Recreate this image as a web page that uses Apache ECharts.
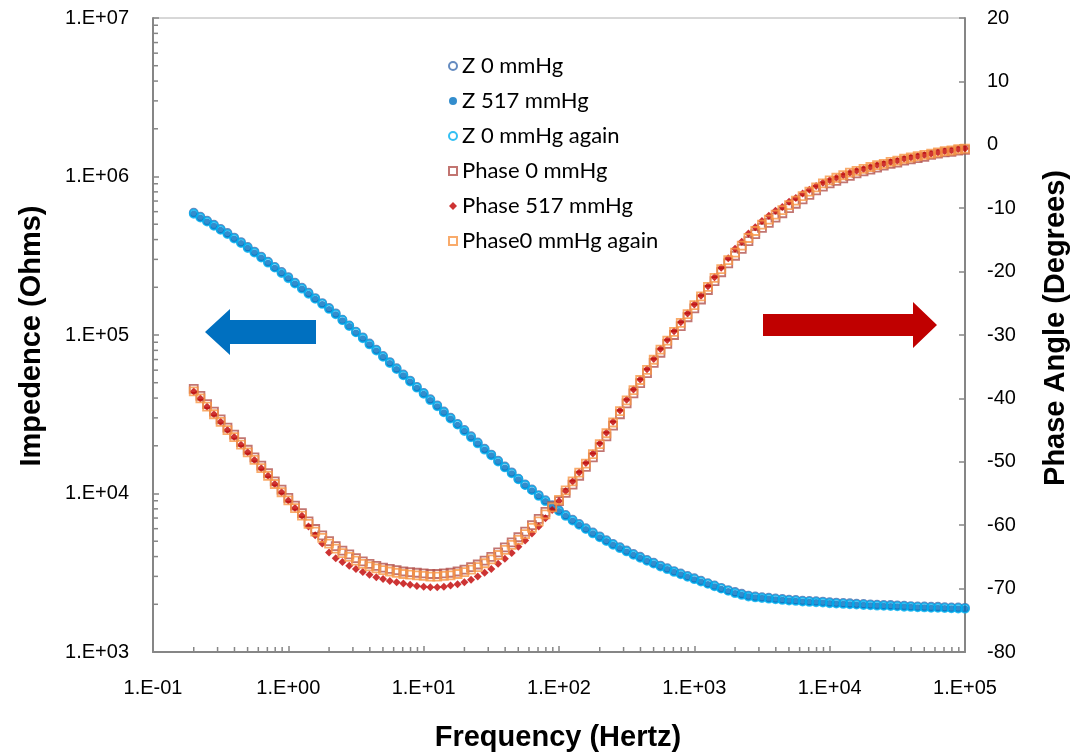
<!DOCTYPE html>
<html>
<head>
<meta charset="utf-8">
<script src="https://cdn.jsdelivr.net/npm/echarts@6/dist/echarts.min.js"></script>
<style>
  html, body { margin: 0; padding: 0; background: #fff; }
  #chart { width: 1076px; height: 754px; }
</style>
</head>
<body>
<div id="chart"></div>
<script>
// Frequency sweep (Hz), 20 points per decade from 0.2 Hz to 100 kHz
const freq = [
  0.2, 0.224, 0.251, 0.282, 0.316, 0.355, 0.398, 0.447, 0.501, 0.562, 0.631, 0.708, 0.794, 0.891,
  1, 1.12, 1.26, 1.41, 1.58, 1.78, 2, 2.24, 2.51, 2.82, 3.16, 3.55, 3.98, 4.47, 5.01, 5.62, 6.31, 7.08, 7.94, 8.91,
  10, 11.2, 12.6, 14.1, 15.8, 17.8, 20, 22.4, 25.1, 28.2, 31.6, 35.5, 39.8, 44.7, 50.1, 56.2, 63.1, 70.8, 79.4, 89.1,
  100, 112, 126, 141, 158, 178, 200, 224, 251, 282, 316, 355, 398, 447, 501, 562, 631, 708, 794, 891,
  1000, 1120, 1260, 1410, 1580, 1780, 2000, 2240, 2510, 2820, 3160, 3550, 3980, 4470, 5010, 5620, 6310, 7080, 7940, 8910,
  10000, 11200, 12600, 14100, 15800, 17800, 20000, 22400, 25100, 28200, 31600, 35500, 39800, 44700, 50100, 56200, 63100, 70800, 79400, 89100,
  100000
];

// Impedance magnitude (Ohms)
const z0 = [
  591000, 558000, 526000, 496000, 467000, 440000, 412000, 386000, 359000, 336000, 312000, 290000, 269000, 250000,
  232000, 214000, 199000, 185000, 171000, 159000, 148000, 137000, 125000, 115000, 105000, 96700, 88400, 80900, 73800, 67500, 61700, 56400, 51600, 47100,
  43100, 39400, 36000, 32900, 30100, 27500, 25200, 23000, 21000, 19200, 17600, 16100, 14800, 13600, 12400, 11400, 10600, 9780, 9070, 8430,
  7840, 7320, 6840, 6430, 6040, 5680, 5370, 5080, 4810, 4580, 4370, 4160, 3990, 3810, 3660, 3510, 3380, 3240, 3130, 3020,
  2920, 2820, 2720, 2630, 2540, 2460, 2390, 2330, 2270, 2240, 2220, 2200, 2180, 2160, 2140, 2130, 2110, 2100, 2090, 2080,
  2060, 2050, 2040, 2030, 2020, 2010, 2000, 1990, 1980, 1980, 1970, 1960, 1950, 1940, 1940, 1930, 1930, 1920, 1910, 1910,
  1900
];
const z517 = [
  579000, 547000, 516000, 486000, 458000, 431000, 404000, 378000, 352000, 329000, 306000, 284000, 264000, 245000,
  227000, 210000, 195000, 181000, 168000, 156000, 145000, 134000, 123000, 113000, 103000, 94800, 86700, 79300, 72400, 66200, 60500, 55300, 50600, 46200,
  42300, 38600, 35300, 32300, 29500, 27000, 24700, 22500, 20600, 18800, 17300, 15800, 14500, 13300, 12200, 11200, 10400, 9590, 8890, 8260,
  7690, 7180, 6710, 6300, 5920, 5570, 5260, 4980, 4720, 4490, 4280, 4080, 3910, 3740, 3590, 3440, 3310, 3180, 3070, 2960,
  2860, 2760, 2670, 2580, 2490, 2410, 2340, 2280, 2230, 2200, 2180, 2160, 2140, 2120, 2100, 2090, 2070, 2060, 2050, 2040,
  2020, 2010, 2000, 1990, 1980, 1970, 1960, 1950, 1945, 1940, 1930, 1920, 1915, 1905, 1900, 1890, 1888, 1884, 1875, 1871,
  1866
];
const z0again = [
  582000, 550000, 519000, 489000, 461000, 433000, 406000, 380000, 354000, 331000, 308000, 286000, 266000, 246000,
  228000, 211000, 196000, 182000, 169000, 157000, 146000, 135000, 124000, 114000, 104000, 95400, 87200, 79800, 72800, 66600, 60900, 55600, 50900, 46500,
  42600, 38800, 35500, 32500, 29700, 27200, 24800, 22600, 20700, 18900, 17400, 15900, 14600, 13400, 12300, 11300, 10500, 9650, 8940, 8310,
  7740, 7220, 6750, 6340, 5960, 5600, 5290, 5010, 4750, 4520, 4310, 4100, 3930, 3760, 3610, 3460, 3330, 3200, 3090, 2980,
  2880, 2780, 2690, 2600, 2510, 2430, 2350, 2290, 2240, 2210, 2190, 2170, 2150, 2130, 2110, 2100, 2080, 2070, 2060, 2050,
  2030, 2020, 2010, 2000, 1990, 1980, 1970, 1960, 1955, 1950, 1940, 1930, 1925, 1915, 1910, 1900, 1898, 1894, 1885, 1881,
  1876
];

// Phase angle (degrees)
const ph0 = [
  -38.5, -39.6, -40.9, -42.1, -43.3, -44.6, -45.7, -46.9, -48.1, -49.3, -50.6, -51.8, -53.1, -54.4,
  -55.7, -56.9, -58.1, -59.4, -60.6, -61.6, -62.5, -63.3, -64.0, -64.6, -65.2, -65.7, -66.1, -66.4, -66.7, -66.9, -67.1, -67.3, -67.4, -67.5,
  -67.6, -67.7, -67.7, -67.6, -67.5, -67.3, -67.0, -66.6, -66.2, -65.6, -65.0, -64.3, -63.5, -62.7, -61.9, -61.0, -60.0, -59.0, -57.9, -57.0,
  -56.2, -54.9, -53.6, -52.2, -50.8, -49.3, -47.7, -46.0, -44.3, -42.5, -40.8, -39.2, -37.6, -36.0, -34.4, -32.8, -31.4, -30.0, -28.6, -27.2,
  -25.8, -24.4, -22.9, -21.5, -20.1, -18.7, -17.5, -16.4, -15.2, -14.1, -13.1, -12.3, -11.5, -10.8, -10.0, -9.3, -8.6, -7.9, -7.2, -6.6,
  -6.1, -5.7, -5.3, -4.9, -4.5, -4.2, -3.9, -3.6, -3.3, -3.0, -2.8, -2.5, -2.3, -2.1, -1.9, -1.6, -1.4, -1.2, -1.1, -0.9,
  -0.8
];
const ph517 = [
  -38.9, -40.0, -41.3, -42.5, -43.7, -45.0, -46.1, -47.3, -48.5, -49.7, -51.0, -52.2, -53.5, -54.8,
  -56.1, -57.3, -58.5, -60.2, -61.6, -62.9, -64.3, -65.2, -65.8, -66.4, -66.9, -67.4, -67.8, -68.2, -68.5, -68.8, -69.0, -69.2, -69.4, -69.6,
  -69.7, -69.8, -69.8, -69.7, -69.5, -69.3, -69.0, -68.6, -68.1, -67.5, -66.9, -66.1, -65.3, -64.4, -63.4, -62.4, -61.3, -60.2, -58.9, -57.6,
  -56.2, -54.6, -53.1, -51.7, -50.2, -48.7, -47.1, -45.4, -43.7, -41.9, -40.2, -38.6, -37.0, -35.4, -33.8, -32.2, -30.8, -29.4, -28.0, -26.6,
  -25.2, -23.8, -22.3, -20.9, -19.4, -17.9, -16.4, -15.3, -14.0, -13.0, -12.0, -11.2, -10.4, -9.8, -9.0, -8.4, -7.7, -7.1, -6.5, -6.0,
  -5.6, -5.2, -4.8, -4.4, -4.1, -3.8, -3.5, -3.2, -3.0, -2.7, -2.5, -2.2, -2.0, -1.8, -1.6, -1.4, -1.2, -1.0, -0.9, -0.7,
  -0.6
];
const ph0again = [
  -38.9, -40.0, -41.3, -42.5, -43.7, -45.0, -46.1, -47.3, -48.5, -49.7, -51.0, -52.2, -53.5, -54.8,
  -56.1, -57.3, -58.5, -59.8, -61.0, -62.0, -62.9, -63.7, -64.4, -65.0, -65.6, -66.1, -66.5, -66.8, -67.1, -67.3, -67.5, -67.7, -67.8, -67.9,
  -68.0, -68.1, -68.1, -68.0, -67.9, -67.7, -67.4, -67.0, -66.6, -66.0, -65.4, -64.7, -63.9, -63.1, -62.3, -61.4, -60.4, -59.4, -58.3, -57.2,
  -56.0, -54.5, -53.1, -51.7, -50.3, -48.8, -47.2, -45.5, -43.8, -42.0, -40.3, -38.7, -37.1, -35.5, -33.9, -32.3, -30.9, -29.5, -28.1, -26.7,
  -25.3, -23.9, -22.4, -21.0, -19.6, -18.2, -17.0, -15.9, -14.7, -13.6, -12.6, -11.8, -11.0, -10.3, -9.5, -8.8, -8.1, -7.4, -6.7, -6.1,
  -5.6, -5.2, -4.8, -4.4, -4.1, -3.8, -3.5, -3.2, -3.0, -2.7, -2.5, -2.2, -2.0, -1.8, -1.6, -1.4, -1.2, -1.0, -0.9, -0.7,
  -0.6
];

const seriesNames = ['Z 0 mmHg', 'Z 517 mmHg', 'Z 0 mmHg again', 'Phase 0 mmHg', 'Phase 517 mmHg', 'Phase0 mmHg again'];

// Axis ranges
const freqMin = 0.1, freqMax = 100000;
const zMin = 1000, zMax = 10000000;
const phaseMin = -80, phaseMax = 20, phaseStep = 10;

const AXIS_GRAY = '#868686';
const LABEL_FONT = 'Liberation Sans, Arial, sans-serif';
const TITLE_FONT = 'bold 29px "Liberation Sans", Arial, sans-serif';

function sciLabel(v) {
  const e = Math.round(Math.log10(v));
  return '1.E' + (e < 0 ? '-' : '+') + String(Math.abs(e)).padStart(2, '0');
}

function pairs(ys) {
  return freq.map((f, i) => [f, ys[i]]);
}

// Minor tick positions at 2..9 within each decade of a log axis
function logMinorValues(lo, hi) {
  const out = [];
  for (let d = Math.round(Math.log10(lo)); d < Math.round(Math.log10(hi)); d++) {
    for (let m = 2; m <= 9; m++) out.push(m * Math.pow(10, d));
  }
  return out;
}

const xMinorTicks = logMinorValues(freqMin, freqMax).map(v => [v, zMin]);
const yMinorTicks = logMinorValues(zMin, zMax).map(v => [freqMin, v]);

function tickSeries(data, dx, dy) {
  return {
    type: 'custom',
    xAxisIndex: 0,
    yAxisIndex: 0,
    silent: true,
    clip: false,
    z: 1,
    data: data,
    renderItem: function (params, api) {
      const p = api.coord([api.value(0), api.value(1)]);
      return {
        type: 'line',
        shape: { x1: p[0], y1: p[1], x2: p[0] + dx, y2: p[1] + dy },
        style: { stroke: AXIS_GRAY, lineWidth: 1.5 }
      };
    }
  };
}

function openMarker(color, symbol, size) {
  return {
    symbol: symbol,
    symbolSize: size,
    itemStyle: { color: 'rgba(255,255,255,0)', borderColor: color, borderWidth: 1.8 }
  };
}

const chart = echarts.init(document.getElementById('chart'), null, { renderer: 'canvas' });

const option = {
  animation: false,
  backgroundColor: '#ffffff',
  grid: {
    left: 153, right: 111, top: 18, bottom: 102,
    show: true, borderColor: '#b0b0b0', borderWidth: 1, backgroundColor: 'transparent'
  },
  legend: {
    orient: 'vertical',
    left: 443,
    top: 50,
    itemWidth: 8,
    itemHeight: 8,
    itemGap: 13,
    data: seriesNames,
    textStyle: { fontFamily: 'Lato, sans-serif', fontSize: 22, color: '#000', lineHeight: 22 },
    selectedMode: false
  },
  xAxis: {
    type: 'log',
    logBase: 10,
    min: freqMin,
    max: freqMax,
    interval: 1,
    axisLine: { onZero: false, lineStyle: { color: AXIS_GRAY, width: 2 } },
    axisTick: { inside: true, length: 6, lineStyle: { color: AXIS_GRAY, width: 1.5 } },
    splitLine: { show: false },
    axisLabel: {
      formatter: sciLabel, margin: 26, color: '#000',
      fontFamily: LABEL_FONT, fontSize: 20, showMinLabel: true, showMaxLabel: true
    }
  },
  yAxis: [
    {
      type: 'log',
      logBase: 10,
      min: zMin,
      max: zMax,
      interval: 1,
      position: 'left',
      axisLine: { show: true, onZero: false, lineStyle: { color: AXIS_GRAY, width: 2 } },
      axisTick: { show: true, inside: true, length: 6, lineStyle: { color: AXIS_GRAY, width: 1.5 } },
      splitLine: { show: false },
      axisLabel: { formatter: sciLabel, margin: 24, color: '#000', fontFamily: LABEL_FONT, fontSize: 20 }
    },
    {
      type: 'value',
      min: phaseMin,
      max: phaseMax,
      interval: phaseStep,
      position: 'right',
      axisLine: { show: true, onZero: false, lineStyle: { color: AXIS_GRAY, width: 2 } },
      axisTick: { show: true, inside: true, length: 6, lineStyle: { color: AXIS_GRAY, width: 1.5 } },
      splitLine: { show: false },
      axisLabel: { margin: 22, color: '#000', fontFamily: LABEL_FONT, fontSize: 20 }
    }
  ],
  graphic: [
    {
      type: 'text', x: 32, y: 336, rotation: Math.PI / 2,
      style: { text: 'Impedence (Ohms)', align: 'center', verticalAlign: 'middle', font: TITLE_FONT, fill: '#000' }
    },
    {
      type: 'text', x: 1056, y: 328, rotation: Math.PI / 2,
      style: { text: 'Phase Angle (Degrees)', align: 'center', verticalAlign: 'middle', font: TITLE_FONT, fill: '#000' }
    },
    {
      type: 'text', x: 558, y: 738,
      style: { text: 'Frequency (Hertz)', align: 'center', verticalAlign: 'middle', font: TITLE_FONT, fill: '#000' }
    },
    {
      // arrow pointing to the impedance axis
      type: 'polygon',
      shape: { points: [[205, 332], [230, 309], [230, 320], [316, 320], [316, 344], [230, 344], [230, 355]] },
      style: { fill: '#0070C0' }
    },
    {
      // arrow pointing to the phase axis
      type: 'polygon',
      shape: { points: [[763, 314], [913, 314], [913, 302], [937, 325], [913, 348], [913, 336], [763, 336]] },
      style: { fill: '#C00000' }
    }
  ],
  series: [
    Object.assign({ name: seriesNames[0], type: 'scatter', yAxisIndex: 0, data: pairs(z0) },
      openMarker('#3F6EB0', 'circle', 8)),
    { name: seriesNames[1], type: 'scatter', yAxisIndex: 0, data: pairs(z517),
      symbol: 'circle', symbolSize: 7, itemStyle: { color: '#0070C0' } },
    Object.assign({ name: seriesNames[2], type: 'scatter', yAxisIndex: 0, data: pairs(z0again) },
      openMarker('#00B0F0', 'circle', 8)),
    Object.assign({ name: seriesNames[3], type: 'scatter', yAxisIndex: 1, data: pairs(ph0) },
      openMarker('#B3524E', 'rect', 8)),
    { name: seriesNames[4], type: 'scatter', yAxisIndex: 1, data: pairs(ph517),
      symbol: 'diamond', symbolSize: 8, itemStyle: { color: '#C00000' } },
    Object.assign({ name: seriesNames[5], type: 'scatter', yAxisIndex: 1, data: pairs(ph0again) },
      openMarker('#F79646', 'rect', 8)),
    tickSeries(xMinorTicks, 0, -5),
    tickSeries(yMinorTicks, 5, 0)
  ]
};

chart.setOption(option);
</script>
</body>
</html>
